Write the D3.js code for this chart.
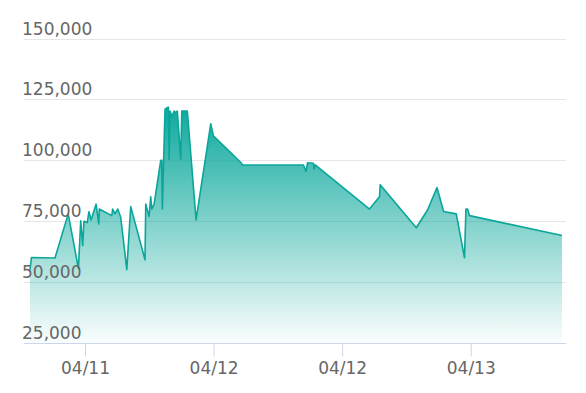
<!DOCTYPE html>
<html>
<head>
<meta charset="utf-8">
<script src="https://cdn.jsdelivr.net/npm/d3@7"></script>
<style>
  html, body { margin: 0; padding: 0; background: #fff; }
  svg { display: block; font-family: "DejaVu Sans", sans-serif; }
</style>
</head>
<body>
<div id="chart"></div>
<script>
// readings
const times = [
  "2024-04-11 06:52", "2024-04-11 07:00", "2024-04-11 09:12", "2024-04-11 10:26",
  "2024-04-11 11:23", "2024-04-11 11:36", "2024-04-11 11:47", "2024-04-11 11:54",
  "2024-04-11 12:13", "2024-04-11 12:22", "2024-04-11 12:34", "2024-04-11 13:02",
  "2024-04-11 13:17", "2024-04-11 13:20", "2024-04-11 14:30", "2024-04-11 14:35",
  "2024-04-11 14:48", "2024-04-11 15:03", "2024-04-11 15:20", "2024-04-11 15:54",
  "2024-04-11 16:16", "2024-04-11 17:36", "2024-04-11 17:40", "2024-04-11 17:59",
  "2024-04-11 18:08", "2024-04-11 18:14", "2024-04-11 18:27", "2024-04-11 19:04",
  "2024-04-11 19:10", "2024-04-11 19:13", "2024-04-11 19:28", "2024-04-11 19:38",
  "2024-04-11 19:47", "2024-04-11 19:51", "2024-04-11 19:56", "2024-04-11 20:06",
  "2024-04-11 20:19", "2024-04-11 20:28", "2024-04-11 20:37", "2024-04-11 20:56",
  "2024-04-11 21:02", "2024-04-11 21:33", "2024-04-11 22:22", "2024-04-11 23:44",
  "2024-04-11 23:59", "2024-04-12 02:37", "2024-04-12 02:40", "2024-04-12 08:23",
  "2024-04-12 08:38", "2024-04-12 08:46", "2024-04-12 09:19", "2024-04-12 09:23",
  "2024-04-12 09:29", "2024-04-12 14:33", "2024-04-12 15:29", "2024-04-12 15:33",
  "2024-04-12 18:55", "2024-04-12 19:58", "2024-04-12 20:51", "2024-04-12 21:28",
  "2024-04-12 22:39", "2024-04-12 23:25", "2024-04-12 23:33", "2024-04-12 23:42",
  "2024-04-12 23:53", "2024-04-13 08:31"
];
const values = [
  55000, 60100, 59900, 78000,
  55600, 75200, 65000, 75000,
  74500, 78900, 75500, 82000,
  73900, 80000, 77300, 80000,
  78000, 80000, 76600, 55100,
  81000, 59200, 82000, 76900,
  85000, 80000, 82000, 100000,
  100000, 80000, 120900, 121500,
  121800, 100400, 120200, 118100,
  120200, 119500, 120200, 100400,
  120200, 120200, 75500, 115000,
  110000, 98800, 98100, 98100,
  95400, 99000, 98800, 96500,
  98100, 80000, 85000, 90000,
  72300, 79600, 88800, 79000,
  78000, 60000, 80000, 80000,
  77300, 69100
];
const yTicks = [25000, 50000, 75000, 100000, 125000, 150000];

(function () {
  const width = 586;
  const height = 393;
  const plot = { left: 24, right: 566, top: 38.5, bottom: 343 };

  const parse = d3.timeParse("%Y-%m-%d %H:%M");
  const data = times.map((t, i) => ({ date: parse(t), value: values[i] }));

  const svg = d3
    .select("#chart")
    .append("svg")
    .attr("width", width)
    .attr("height", height);

  const xScale = d3
    .scaleTime()
    .domain(d3.extent(data, (d) => d.date))
    .range([30, 562]);

  const yScale = d3
    .scaleLinear()
    .domain([25000, 150000])
    .range([plot.bottom, plot.top]);

  // gradient fill
  const grad = svg
    .append("defs")
    .append("linearGradient")
    .attr("id", "fillGrad")
    .attr("x1", 0)
    .attr("y1", 0)
    .attr("x2", 0)
    .attr("y2", 1);
  grad.append("stop").attr("offset", "0%").attr("stop-color", "#0ea99d").attr("stop-opacity", 1);
  grad.append("stop").attr("offset", "100%").attr("stop-color", "#0ea99d").attr("stop-opacity", 0.02);

  // grid lines
  svg
    .append("g")
    .selectAll("line")
    .data(yTicks.filter((d) => d > 25000))
    .enter()
    .append("line")
    .attr("x1", plot.left)
    .attr("x2", plot.right)
    .attr("y1", (d) => Math.round(yScale(d)) + 0.5)
    .attr("y2", (d) => Math.round(yScale(d)) + 0.5)
    .attr("stroke", "#e6e6e6")
    .attr("stroke-width", 1);

  // area + line
  const area = d3
    .area()
    .x((d) => xScale(d.date))
    .y0(yScale(25000))
    .y1((d) => yScale(d.value));

  const line = d3
    .line()
    .x((d) => xScale(d.date))
    .y((d) => yScale(d.value));

  svg.append("path").datum(data).attr("d", area).attr("fill", "url(#fillGrad)");

  svg
    .append("path")
    .datum(data)
    .attr("d", line)
    .attr("fill", "none")
    .attr("stroke", "#0aa69a")
    .attr("stroke-width", 1.6)
    .attr("stroke-linejoin", "round");

  // y labels, sitting above their grid lines
  svg
    .append("g")
    .selectAll("text")
    .data(yTicks)
    .enter()
    .append("text")
    .attr("x", 22)
    .attr("y", (d) => yScale(d) - 4)
    .attr("fill", "#666666")
    .attr("font-size", "17px")
    .text((d) => d3.format(",")(d));

  // x axis
  const xAxis = svg
    .append("g")
    .attr("transform", `translate(0,${Math.round(plot.bottom) + 0.5})`)
    .call(
      d3
        .axisBottom(xScale)
        .ticks(d3.timeHour.every(12))
        .tickFormat(d3.timeFormat("%m/%d"))
        .tickSize(13)
        .tickPadding(5)
    );

  xAxis.select(".domain").remove();
  xAxis
    .append("line")
    .attr("x1", plot.left)
    .attr("x2", plot.right)
    .attr("stroke", "#ccd6eb");
  xAxis.selectAll(".tick line").attr("stroke", "#ccd6eb");
  xAxis
    .selectAll(".tick text")
    .attr("fill", "#666666")
    .attr("font-size", "17px")
    .attr("font-family", "DejaVu Sans, sans-serif");
})();
</script>
</body>
</html>
